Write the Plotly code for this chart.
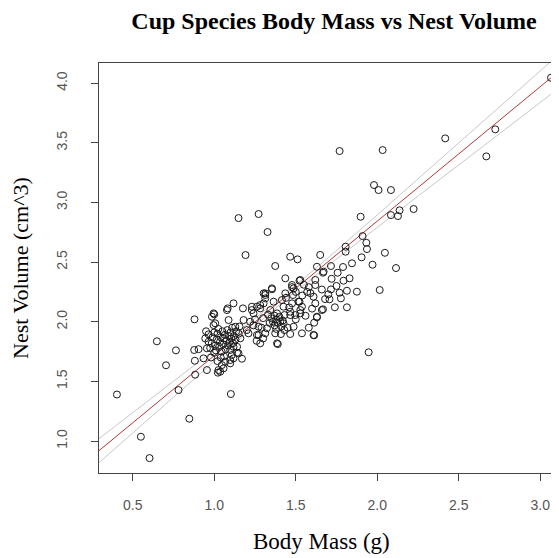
import plotly.graph_objects as go

# ---- data ----
body_mass = [
    0.403, 0.55, 0.603, 0.648, 0.704, 0.765, 0.781, 0.847, 0.879, 0.877, 0.881, 0.883, 0.904, 1.102,
    0.934, 0.955, 0.955, 0.965, 0.965, 0.986, 1.0, 1.006, 0.996, 0.996, 1.026, 1.022, 1.047, 1.057, 1.067,
    1.098, 1.108, 1.098, 1.118, 1.082, 1.118, 1.129, 1.078, 1.088, 1.17, 1.14, 1.149, 1.16, 1.18, 1.176,
    1.037, 1.098, 1.118,
    0.975, 0.985, 0.99, 1.0, 1.005, 1.01, 1.015, 1.02, 1.025, 1.03, 1.035, 1.04, 1.045, 1.05, 1.055, 1.06,
    1.065, 1.07, 1.075, 1.08, 1.085, 1.09, 1.095, 1.10, 1.105, 1.11, 1.115, 1.12, 1.13, 1.135, 1.14, 1.15,
    1.155, 1.06, 1.04, 1.02, 1.00, 0.98, 0.945, 0.95,
    1.21, 1.231, 1.241, 1.282, 1.313, 1.354, 1.272, 1.272, 1.282, 1.262, 1.313, 1.323, 1.385, 1.374, 1.405,
    1.466, 1.487, 1.528, 1.523, 1.477, 1.483, 1.538, 1.39, 1.409, 1.425, 1.466, 1.528,
    1.303, 1.313, 1.303, 1.262, 1.231, 1.364, 1.415, 1.425, 1.517, 1.538, 1.466, 1.497, 1.431, 1.385, 1.344,
    1.282,
    1.436, 1.528, 1.477, 1.487, 1.354, 1.313, 1.436, 1.374, 1.466, 1.511, 1.192, 1.149, 1.272, 1.327, 1.523,
    1.477,
    1.36, 1.37, 1.38, 1.39, 1.40, 1.35, 1.37, 1.41, 1.38, 1.34, 1.42, 1.43,
    1.24, 1.25, 1.29, 1.30, 1.33, 1.26, 1.30, 1.22, 1.45, 1.46, 1.50, 1.20, 1.44, 1.54, 1.50,
    1.609, 1.62, 1.62, 1.66, 1.62, 1.66, 1.63, 1.613, 1.613, 1.609, 1.63, 1.65, 1.63, 1.671, 1.667, 1.716,
    1.79, 1.757, 1.83, 1.793, 1.845, 1.806, 1.806, 1.904, 1.937, 1.933, 1.91, 1.971, 2.047, 2.115, 2.015,
    1.875, 1.814, 1.769, 1.716, 1.777, 1.814, 1.74, 1.707, 1.667, 1.947, 1.898, 2.084, 2.127, 2.137, 2.223,
    1.98, 2.008, 2.084, 1.769, 2.033, 2.417, 2.669, 2.724, 3.066,
    1.57, 1.58, 1.59, 1.55, 1.56, 1.58, 1.60, 1.68, 1.70, 1.72, 1.75,
]
nest_volume = [
    1.39, 1.036, 0.857, 1.836, 1.635, 1.76, 1.427, 1.187, 2.02, 1.763, 1.673, 1.556, 1.77, 1.394,
    1.693, 1.595, 1.777, 1.832, 1.894, 2.042, 2.062, 1.987, 2.07, 1.972, 1.595, 1.573, 1.637, 1.609, 1.665,
    1.679, 1.721, 1.763, 1.79, 2.112, 2.154, 1.958, 2.098, 2.014, 1.69, 1.74, 1.735, 1.861, 2.014, 2.112,
    1.581, 1.651, 1.693,
    1.78, 1.82, 1.87, 1.91, 1.80, 1.76, 1.85, 1.90, 1.94, 1.79, 1.83, 1.87, 1.75, 1.92, 1.81, 1.86,
    1.89, 1.77, 1.84, 1.93, 1.80, 1.88, 1.83, 1.91, 1.86, 1.95, 1.82, 1.88, 1.85, 1.92, 1.79, 1.90,
    1.96, 1.71, 1.70, 1.67, 1.74, 1.70, 1.86, 1.92,
    1.903, 2.126, 2.07, 2.14, 2.224, 2.28, 1.958, 1.888, 1.819, 1.889, 1.903, 1.945, 1.819, 1.903, 2.0,
    1.897, 1.958, 2.098, 2.168, 2.154, 2.224, 1.903, 1.813, 1.897, 1.987, 2.056, 2.07,
    2.238, 2.196, 2.154, 2.126, 2.098, 2.168, 2.182, 2.126, 2.168, 2.126, 2.084, 2.056, 2.056, 2.07, 2.098,
    2.112,
    2.364, 2.35, 2.308, 2.28, 2.272, 2.238, 2.238, 2.467, 2.545, 2.523, 2.559, 2.869, 2.903, 2.752, 2.344,
    2.29,
    2.00, 1.97, 2.02, 1.99, 2.04, 2.03, 2.05, 1.96, 1.94, 1.99, 2.01, 1.93,
    1.97, 2.02, 1.95, 2.03, 2.06, 1.84, 1.86, 2.00, 1.95, 2.12, 2.02, 1.93, 2.20, 2.22, 2.25,
    2.21, 2.35, 2.308, 2.27, 2.154, 2.098, 2.042, 1.992, 1.886, 1.889, 2.037, 2.56, 2.461, 2.42, 2.411, 2.467,
    2.459, 2.411, 2.364, 2.344, 2.49, 2.629, 2.587, 2.54, 2.609, 2.662, 2.718, 2.478, 2.578, 2.45, 2.266,
    2.252, 2.26, 2.243, 2.271, 2.196, 2.121, 2.121, 2.188, 2.104, 1.744, 2.88, 2.894, 2.886, 2.934, 2.945,
    3.146, 3.104, 3.104, 3.431, 3.439, 3.537, 3.386, 3.613, 4.045,
    2.25, 2.29, 2.24, 2.31, 2.05, 1.95, 2.11, 2.19, 2.23, 2.36, 2.30,
]
x_ticks = [0.5, 1.0, 1.5, 2.0, 2.5, 3.0]
x_tick_labels = ["0.5", "1.0", "1.5", "2.0", "2.5", "3.0"]
y_ticks = [1.0, 1.5, 2.0, 2.5, 3.0, 3.5, 4.0]
y_tick_labels = ["1.0", "1.5", "2.0", "2.5", "3.0", "3.5", "4.0"]

# fitted regression line and its confidence band
fit_x = [0.25, 0.6, 1.0, 1.2, 1.45, 1.7, 2.0, 2.5, 3.2]
fit_y = [0.871, 1.265, 1.716, 1.941, 2.223, 2.505, 2.843, 3.407, 4.196]
fit_upper = [0.975, 1.341, 1.761, 1.974, 2.248, 2.538, 2.896, 3.499, 4.344]
fit_lower = [0.767, 1.189, 1.671, 1.908, 2.198, 2.472, 2.791, 3.315, 4.048]

fig = go.Figure()
fig.add_trace(go.Scatter(x=fit_x, y=fit_upper, mode="lines",
                         line=dict(color="#c8c8c8", width=1), hoverinfo="skip"))
fig.add_trace(go.Scatter(x=fit_x, y=fit_lower, mode="lines",
                         line=dict(color="#c8c8c8", width=1), hoverinfo="skip"))
fig.add_trace(go.Scatter(x=fit_x, y=fit_y, mode="lines",
                         line=dict(color="#b03a3a", width=1), hoverinfo="skip"))
fig.add_trace(go.Scatter(x=body_mass, y=nest_volume, mode="markers",
                         marker=dict(symbol="circle-open", size=7, color="#1a1a1a",
                                     line=dict(width=1))))

axis_common = dict(showgrid=False, zeroline=False, showline=True, linecolor="#444",
                   linewidth=1, ticks="outside", ticklen=7, tickcolor="#444", tickwidth=1,
                   tickfont=dict(family="Liberation Sans, Arial, sans-serif", size=14,
                                 color="#555"))
fig.update_xaxes(range=[0.293, 3.115], tickvals=x_ticks, ticktext=x_tick_labels,
                 mirror=True, ticklabelstandoff=12, **axis_common)
fig.update_yaxes(range=[0.732, 4.169], tickvals=y_ticks, ticktext=y_tick_labels,
                 tickangle=-90, mirror=False, ticklabelstandoff=18, **axis_common)

# the page has an 8px body margin, so the figure is 551x550 and offsets are shifted by 8px
W, H = 551, 550
serif = "Liberation Serif, Times New Roman, serif"
fig.update_layout(
    width=W, height=H,
    margin=dict(l=91, r=0, t=55, b=85),
    paper_bgcolor="white", plot_bgcolor="white",
    showlegend=False,
    title=dict(text="<b>Cup Species Body Mass vs Nest Volume</b>",
               x=326 / W, xref="container", xanchor="center",
               y=1 - 13 / H, yref="container", yanchor="middle",
               font=dict(family=serif, size=24, color="black")),
    annotations=[
        dict(text="Body Mass (g)", xref="paper", yref="paper",
             x=(313 - 91) / 460, y=(465 - 533) / 410, xanchor="center", yanchor="middle",
             showarrow=False, font=dict(family=serif, size=23, color="black")),
        dict(text="Nest Volume (cm^3)", xref="paper", yref="paper",
             x=(12 - 91) / 460, y=(465 - 260) / 410, xanchor="center", yanchor="middle",
             textangle=-90,
             showarrow=False, font=dict(family=serif, size=22, color="black")),
    ],
)

fig.write_html("out.html")
